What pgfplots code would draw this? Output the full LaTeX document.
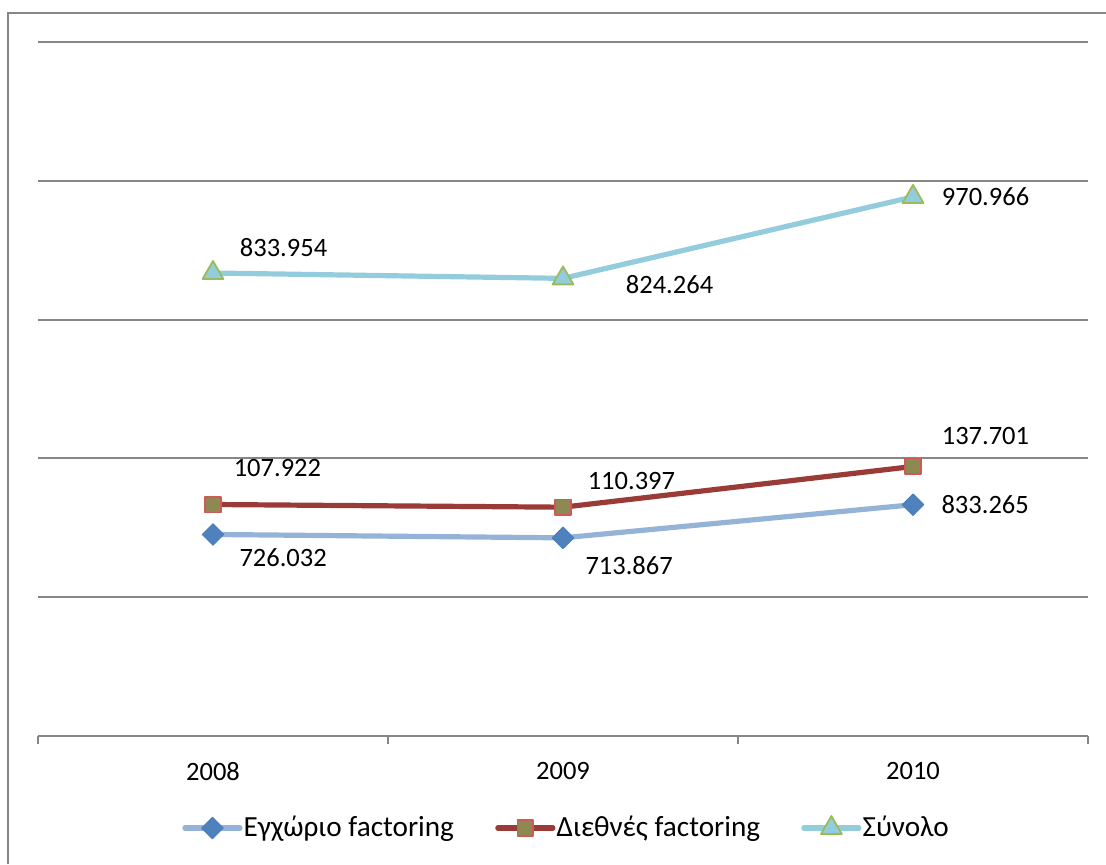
\documentclass[border=0pt]{standalone}
\usepackage{pgfplots}
\usepackage{pgfplotstable}
\usepackage{fontspec}
\setmainfont{Carlito}
\pgfplotsset{compat=1.18}

\definecolor{gridgray}{HTML}{868686}
\definecolor{domline}{HTML}{95B3D7}
\definecolor{dommark}{HTML}{4F81BD}
\definecolor{domedge}{HTML}{4A7EBB}
\definecolor{intline}{HTML}{9A3B38}
\definecolor{intfill}{HTML}{8E8852}
\definecolor{intedge}{HTML}{CD5A57}
\definecolor{totline}{HTML}{93CDDD}
\definecolor{totedge}{HTML}{9BBB59}

% year, value, printed label, label offset (pt)
\pgfplotstableread{
x y label dx dy
0 726.032 726.032 13 -11.5
1 713.867 713.867 11 -14
2 833.265 833.265 14 0
}\tabDom
\pgfplotstableread{
x y label dx dy
0 107.922 107.922 10 18
1 110.397 110.397 12 13
2 137.701 137.701 14 15
}\tabInt
\pgfplotstableread{
x y label dx dy
0 833.954 833.954 13 12.5
1 824.264 824.264 31 -3
2 970.966 970.966 14 0
}\tabTot

\begin{document}
\begin{tikzpicture}[font=\fontsize{13.25pt}{16pt}\selectfont]
\useasboundingbox (0,0) rectangle (553pt,432pt);
% outer chart frame
\draw[gridgray, line width=1pt] (4pt,0) -- (4pt,425.5pt) -- (553pt,425.5pt);
\begin{axis}[
  at={(19pt,64pt)}, anchor=south west,
  scale only axis, width=525pt, height=347pt,
  xmin=-0.5, xmax=2.5, ymin=0, ymax=2500,
  clip=false,
  stack plots=y,
  axis x line*=bottom, axis y line*=left,
  y axis line style={draw=none},
  x axis line style={gridgray, line width=1pt},
  xtick={0,1,2}, xticklabels={2008,2009,2010},
  major x tick style={draw=none},
  minor xtick={-0.5,0.5,1.5,2.5},
  minor x tick style={gridgray, line width=1pt},
  minor tick length=4pt, tick align=outside,
  xticklabel style={inner sep=0pt, anchor=north},
  xticklabel shift=8.5pt,
  ytick={500,1000,1500,2000,2500},
  yticklabels={},
  major y tick style={draw=none},
  ymajorgrids,
  major grid style={gridgray, line width=1pt},
  point meta=explicit symbolic,
  visualization depends on={\thisrow{dx}\as\dx},
  visualization depends on={\thisrow{dy}\as\dy},
  nodes near coords,
  nodes near coords style={anchor=west, inner sep=0pt, xshift=\dx, yshift=\dy, text=black},
  every axis plot/.append style={line width=2.6pt, line join=round, line cap=round},
  legend columns=3,
  legend style={draw=none, fill=none, at={(0.503,-0.1326)}, anchor=center,
    font=\fontsize{14.6pt}{17pt}\selectfont,
    /tikz/every even column/.append style={column sep=20pt},
    nodes={inner sep=0.6pt}},
  legend image code/.code={\draw[mark repeat=2,mark phase=2] plot coordinates {(0pt,0pt) (13.75pt,0pt) (27.5pt,0pt)};},
]
\addplot[domline, mark=square*, mark options={solid, rotate=45, fill=dommark, draw=domedge, line width=0.5pt}, mark size=3.8pt]
  table[x=x, y=y, meta=label] {\tabDom};
\addlegendentry{Εγχώριο factoring}
\addplot[intline, mark=square*, mark options={solid, fill=intfill, draw=intedge, line width=0.8pt}, mark size=3.9pt]
  table[x=x, y=y, meta=label] {\tabInt};
\addlegendentry{Διεθνές factoring}
\addplot[totline, mark=triangle*, mark options={solid, fill=totline, draw=totedge, line width=0.9pt}, mark size=6pt]
  table[x=x, y=y, meta=label] {\tabTot};
\addlegendentry{Σύνολο}
\end{axis}
\end{tikzpicture}
\end{document}
